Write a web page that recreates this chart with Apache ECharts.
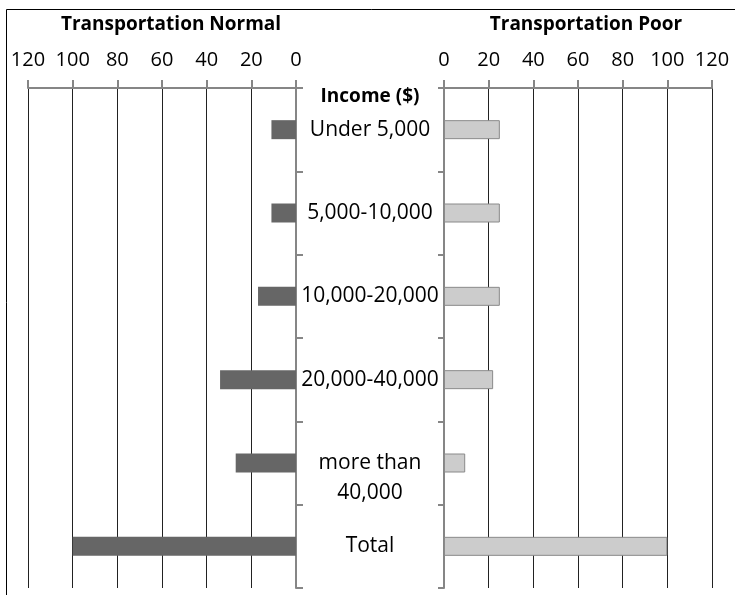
<!DOCTYPE html>
<html>
<head>
<meta charset="utf-8">
<script src="https://cdn.jsdelivr.net/npm/echarts@6/dist/echarts.min.js"></script>
<style>
html,body{margin:0;padding:0;background:#fff;}
#chart{width:735px;height:595px;}
</style>
</head>
<body>
<div id="chart"></div>
<script>
const categories = ['Under 5,000', '5,000-10,000', '10,000-20,000', '20,000-40,000', 'more than\n40,000', 'Total'];
const normalValues = [11, 11, 17, 34, 27, 100];
const poorValues = [25, 25, 25, 22, 9.5, 100];
const tickLabels = [0, 20, 40, 60, 80, 100, 120];
const leftTitle = 'Transportation Normal';
const rightTitle = 'Transportation Poor';
const axisTitle = 'Income ($)';

const FONT = '"Open Sans", "Noto Sans", sans-serif';
const AXIS_GRAY = '#868686';

const chart = echarts.init(document.getElementById('chart'), null, {renderer: 'canvas'});

function xAxisCfg(gridIndex, inverse) {
  return {
    type: 'value', gridIndex: gridIndex, position: 'top', inverse: inverse,
    min: tickLabels[0], max: tickLabels[tickLabels.length - 1], interval: 20,
    axisLine: {show: true, lineStyle: {color: AXIS_GRAY, width: 2}},
    axisTick: {show: true, inside: false, length: 8, lineStyle: {color: AXIS_GRAY, width: 2}},
    axisLabel: {show: true, margin: 18, color: '#000', fontFamily: FONT, fontSize: 20},
    splitLine: {show: true, lineStyle: {color: '#222', width: 1}}
  };
}

const option = {
  animation: false,
  backgroundColor: '#fff',
  grid: [
    {left: 28, right: 735 - 296, top: 88, bottom: 7, containLabel: false},
    {left: 444, right: 735 - 712, top: 88, bottom: 7, containLabel: false}
  ],
  xAxis: [xAxisCfg(0, true), xAxisCfg(1, false)],
  yAxis: [
    {
      type: 'category', gridIndex: 0, position: 'right', inverse: true, data: categories,
      axisLine: {show: true, onZero: false, lineStyle: {color: AXIS_GRAY, width: 2}},
      axisTick: {show: true, length: 7, lineStyle: {color: AXIS_GRAY, width: 2}},
      axisLabel: {
        show: true, align: 'center', margin: 74, color: '#000', fontFamily: FONT, fontSize: 21, lineHeight: 30,
        formatter: v => (v.indexOf('\n') >= 0 ? '\n' + v : v)
      },
      splitLine: {show: false}
    },
    {
      type: 'category', gridIndex: 1, position: 'left', inverse: true, data: categories,
      axisLine: {show: true, onZero: false, lineStyle: {color: AXIS_GRAY, width: 2}},
      axisTick: {show: true, length: 6, lineStyle: {color: AXIS_GRAY, width: 2}},
      axisLabel: {show: false},
      splitLine: {show: false}
    }
  ],
  series: [
    {
      type: 'bar', xAxisIndex: 0, yAxisIndex: 0, data: normalValues, barWidth: 19,
      itemStyle: {color: '#666666'}
    },
    {
      type: 'bar', xAxisIndex: 1, yAxisIndex: 1, data: poorValues, barWidth: 19,
      itemStyle: {color: '#cccccc', borderColor: '#8a8a8a', borderWidth: 1}
    }
  ],
  graphic: [
    {type: 'rect', silent: true, z: 100, shape: {x: 6.5, y: 9.5, width: 900, height: 900},
     style: {fill: null, stroke: '#000', lineWidth: 1}},
    {type: 'text', x: 171, y: 25, z: 100, style: {text: leftTitle, fontFamily: FONT, fontWeight: 'bold', fontSize: 19, fill: '#000', textAlign: 'center', textVerticalAlign: 'middle'}},
    {type: 'text', x: 586, y: 25, z: 100, style: {text: rightTitle, fontFamily: FONT, fontWeight: 'bold', fontSize: 19, fill: '#000', textAlign: 'center', textVerticalAlign: 'middle'}},
    {type: 'text', x: 370, y: 97, z: 100, style: {text: axisTitle, fontFamily: FONT, fontWeight: 'bold', fontSize: 19, fill: '#000', textAlign: 'center', textVerticalAlign: 'middle'}}
  ]
};
chart.setOption(option);
</script>
</body>
</html>
